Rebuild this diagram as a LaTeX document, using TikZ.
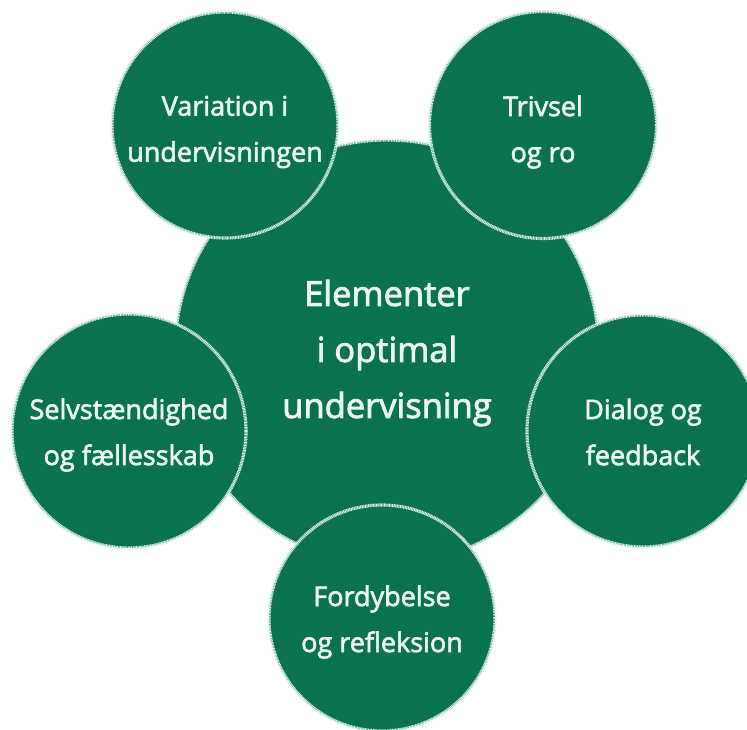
\documentclass[tikz,border=0pt]{standalone}
\usepackage{fontspec}
\setmainfont{Open Sans}[FakeBold=2.4]
\definecolor{gr}{RGB}{10,114,80}
\definecolor{ringc}{RGB}{222,240,231}
\definecolor{txc}{RGB}{234,245,239}
\begin{document}
\begin{tikzpicture}[x=1pt,y=-1pt,
  bubble/.style={circle, inner sep=0pt, fill=gr,
    draw=ringc, line width=3.2pt, dash pattern=on 1pt off 0.6pt},
  lbl/.style={text=txc, align=center, inner sep=0pt},
  small/.style={lbl, font=\fontsize{27}{46}\selectfont},
  big/.style={lbl, font=\fontsize{34.5}{56}\selectfont}]
\useasboundingbox (0,0) rectangle (747,730);
\clip (0,0) rectangle (747,730);
\node[bubble, minimum size=424pt] (c) at (387,352) {};
\node[bubble, minimum size=226pt] (var) at (225,125) {};
\node[bubble, minimum size=227pt] (tri) at (543,125) {};
\node[bubble, minimum size=234pt] (sel) at (129,431) {};
\node[bubble, minimum size=232pt] (dia) at (643,431) {};
\node[bubble, minimum size=226pt] (for) at (382,618) {};
\node[big] (cT) at ([yshift=-1pt]c.center) {Elementer\\i optimal\\undervisning};
\node[small] (varT) at ([yshift=-7pt]var.center) {Variation i\\undervisningen};
\node[small] (triT) at ([yshift=-7pt]tri.center) {Trivsel\\og ro};
\node[small] (selT) at ([yshift=-4pt]sel.center) {Selvstændighed\\og fællesskab};
\node[small] (diaT) at ([yshift=-1pt]dia.center) {Dialog og\\feedback};
\node[small] (forT) at ([yshift=-4pt]for.center) {Fordybelse\\og refleksion};
\end{tikzpicture}
\end{document}
